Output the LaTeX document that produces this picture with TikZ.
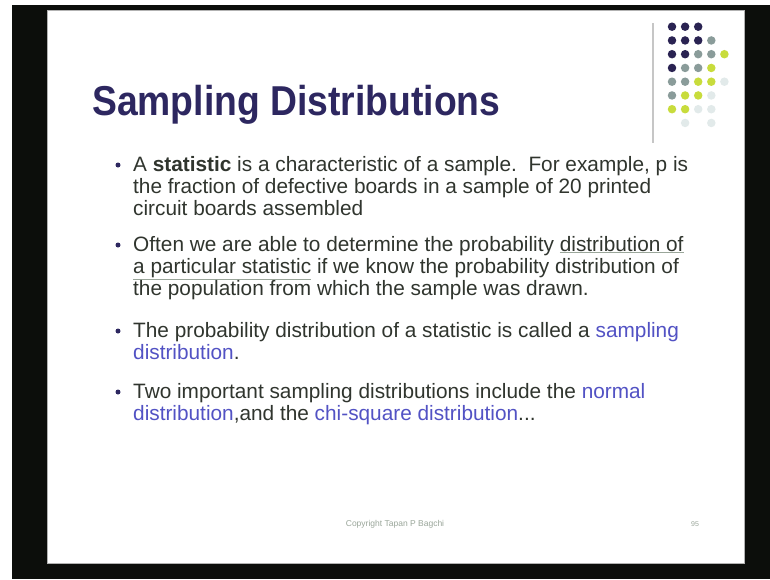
\documentclass[tikz,border=0pt]{standalone}
\usepackage{fontspec}
\setmainfont{Liberation Sans}
\definecolor{screenblack}{HTML}{0C0E0B}
\definecolor{titlenavy}{HTML}{2D2760}
\definecolor{txtgray}{HTML}{30352E}
\definecolor{linkblue}{HTML}{5252C4}
\definecolor{footgray}{HTML}{9AA69A}
\definecolor{dk}{HTML}{2A2352}
\definecolor{tl}{HTML}{8A9C9A}
\definecolor{yg}{HTML}{C8DC3C}
\definecolor{ft}{HTML}{E2EAEA}
\newcommand{\blueword}[1]{\textcolor{linkblue}{#1}}
\newcommand{\grayuline}[1]{\textcolor{footgray}{\underline{\textcolor{txtgray}{#1}}}}
\begin{document}
\begin{tikzpicture}[x=1pt,y=-1pt]
	\tikzstyle{bodytext} = [anchor=base west,inner sep=0pt,align=left,text=txtgray,font=\fontsize{20.8}{22}\selectfont]
	\tikzstyle{bulletdot} = [circle,fill=titlenavy,inner sep=0pt,minimum size=5pt]
	\tikzstyle{gridspot} = [circle,inner sep=0pt,minimum size=8.5pt]
	\useasboundingbox (0,0) rectangle (770,579);
	% screen and slide
	\fill[white] (0,0) rectangle (770,579);
	\fill[screenblack] (12,5) rectangle (770,579);
	\fill[white] (47,10) rectangle (744,563);
	\draw[gray!60,line width=1pt] (47,10) rectangle (744,563);
	% corner decoration
	\draw[gray!45,line width=1.2pt] (653,23) -- (653,143);
	\foreach \clist [count=\r from 0] in {{dk,dk,dk},{dk,dk,dk,tl},{dk,dk,tl,tl,yg},{dk,tl,tl,yg},{tl,tl,yg,yg,ft},{tl,yg,yg,ft},{yg,yg,ft,ft},{none,ft,none,ft}}
		\foreach \c [count=\k from 0] in \clist
			\node[gridspot,fill=\c](spot-\r-\k) at (672+13.1*\k,26.7+13.75*\r){};
	% title
	\node[anchor=base west,inner sep=0pt,text=titlenavy,yscale=1.12,transform shape,font=\fontsize{37.3}{40}\selectfont\bfseries](title) at (92,115){Sampling Distributions};
	% bullets (placed at the baseline of their last line)
	\node[bodytext](first) at (133,215){A \textbf{statistic} is a characteristic of a sample.\ \ For example, p is\\the fraction of defective boards in a sample of 20 printed\\circuit boards assembled};
	\node[bodytext](second) at (133,295){Often we are able to determine the probability \grayuline{distribution of}\\\grayuline{a particular statistic} if we know the probability distribution of\\the population from which the sample was drawn.};
	\node[bodytext](third) at (133,359){The probability distribution of a statistic is called a \blueword{sampling}\\\blueword{distribution}.};
	\node[bodytext](fourth) at (133,420){Two important sampling distributions include the \blueword{normal}\\\blueword{distribution},and the \blueword{chi-square distribution}...};
	\foreach \y [count=\i] in {165,245,331,392}
		\node[bulletdot](dot-\i) at (118,\y){};
	% footer
	\node[text=footgray,font=\fontsize{8.5}{9}\selectfont](copyright) at (395,524){Copyright Tapan P Bagchi};
	\node[text=footgray,font=\fontsize{7}{8}\selectfont](pagenum) at (695,524){95};
\end{tikzpicture}
\end{document}
